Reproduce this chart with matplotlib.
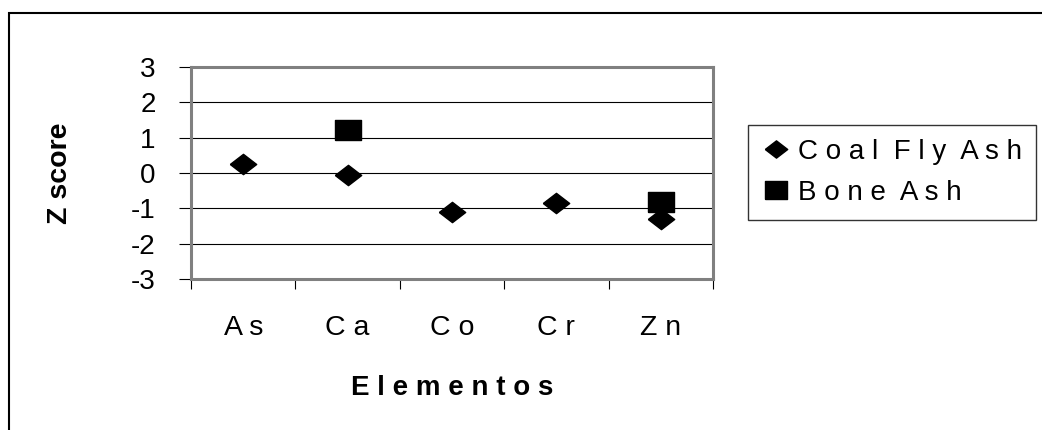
import matplotlib
matplotlib.use('Agg')
import matplotlib.pyplot as plt
from matplotlib.path import Path
from matplotlib.patches import Rectangle

plt.rcParams['font.family'] = ['Liberation Sans', 'DejaVu Sans']

# datos
elementos = ['As', 'Ca', 'Co', 'Cr', 'Zn']
coal_fly_ash = [0.25, -0.06, -1.11, -0.84, -1.3]
bone_ash_x = ['Ca', 'Zn']
bone_ash = [1.22, -0.82]
yticks = [3, 2, 1, 0, -1, -2, -3]

def spaced(s):
    # texto con espaciado entre letras, como en la figura original
    return ' '.join(s).replace('   ', '  ')

# marcadores (rombo y cuadrado algo achatados)
rombo = Path([(-1, 0), (0, 0.77), (1, 0), (0, -0.77), (-1, 0)])
cuadro = Path([(-1, -0.77), (1, -0.77), (1, 0.77), (-1, 0.77), (-1, -0.77)])

fig = plt.figure(figsize=(10.42, 4.30), dpi=100)
ax = fig.add_axes([191/1042, 1 - 279/430, 522/1042, 212/430])

xpos = list(range(len(elementos)))
xb = [elementos.index(e) for e in bone_ash_x]
ax.plot(xpos, coal_fly_ash, linestyle='none', marker=rombo, markersize=19,
        color='black', label=spaced('Coal Fly Ash'), zorder=3)
ax.plot(xb, bone_ash, linestyle='none', marker=cuadro, markersize=19,
        color='black', label=spaced('Bone Ash'), zorder=3)

ax.set_xlim(-0.5, len(elementos) - 0.5)
ax.set_ylim(-3, 3)
ax.set_yticks(yticks)
ax.set_yticklabels([str(v) for v in yticks])
ax.tick_params(axis='y', direction='out', length=8.5, width=0.8, color='black',
               pad=17, labelsize=20)

# ticks del eje x en los bordes de cada categoria, etiquetas en el centro
ax.set_xticks([i - 0.5 for i in range(len(elementos) + 1)])
ax.set_xticklabels([])
ax.set_xticks(xpos, minor=True)
ax.set_xticklabels([spaced(e) for e in elementos], minor=True)
ax.tick_params(axis='x', which='major', direction='out', length=7, width=0.8, color='black')
ax.tick_params(axis='x', which='minor', length=0, pad=26, labelsize=20.5)

for v in yticks[1:-1]:
    ax.axhline(v, color='black', linewidth=0.8, zorder=1)

for s in ax.spines.values():
    s.set_color('#808080')
    s.set_linewidth(2.2)

ax.set_ylabel('Z score', fontsize=20.5, fontweight='bold')
ax.yaxis.set_label_coords(-0.226, 0.5)
ax.set_xlabel(spaced('Elementos'), fontsize=20, fontweight='bold')
ax.xaxis.set_label_coords(0.5, -0.514)
ax.xaxis.label.set_va('center')

leg = fig.legend(loc='upper left', bbox_to_anchor=(748/1042, 1 - 125/430),
                 borderaxespad=0, fontsize=20, handlelength=1.0, handletextpad=0.3,
                 labelspacing=0.55, borderpad=0.5, fancybox=False, frameon=True,
                 markerscale=0.85)
leg.get_frame().set_edgecolor('black')
leg.get_frame().set_linewidth(1.0)

# borde exterior del grafico
fig.patches.append(Rectangle((9/1042, -0.1), 1.2, 1 - 13/430 + 0.1,
                             transform=fig.transFigure, fill=False,
                             edgecolor='black', linewidth=1.5))

fig.savefig('out.png', dpi=100)
